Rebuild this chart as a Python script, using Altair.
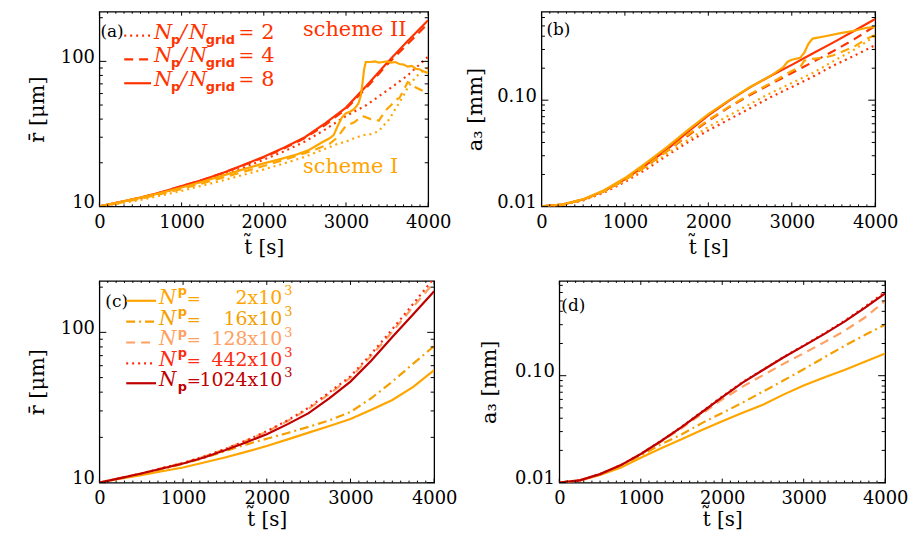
import altair as alt
import pandas as pd

# ---------------- data ----------------
T = [0, 250, 500, 750, 1000, 1250, 1500, 1750, 2000, 2250, 2500, 2750, 3000, 3250, 3500, 3750, 4000]

# panel (a): mean radius [micron]; scheme II (red) and scheme I (orange); Np/Ngrid = 2, 4, 8
a_II_2 = [10, 10.6, 11.4, 12.4, 13.6, 14.9, 16.5, 18.5, 21.0, 24.0, 28.0, 34.0, 42, 50, 63, 80, 108]
a_II_4 = [10, 10.7, 11.5, 12.5, 13.8, 15.2, 17.0, 19.2, 21.8, 25.2, 29.6, 36.5, 47, 66, 95, 132, 183]
a_II_8 = [10, 10.7, 11.5, 12.5, 13.8, 15.2, 17.0, 19.3, 22.0, 25.5, 30.0, 37.5, 48, 68, 98, 138, 192]

a_I_2_t = [0, 250, 500, 750, 1000, 1250, 1500, 1750, 2000, 2250, 2500, 2750, 2900, 3000, 3100, 3200,
           3300, 3400, 3450, 3500, 3550, 3600, 3650, 3700, 3750, 3800, 3850, 3900, 3950, 4000]
a_I_2 = [10, 10.5, 11.1, 11.9, 12.8, 13.9, 15.1, 16.5, 18.0, 19.8, 22.0, 25.0, 27.0, 28.0, 29.5, 31,
         31.5, 33, 36, 38, 42, 47, 52, 58, 66, 72, 78, 83, 87, 90]
a_I_4_t = [0, 250, 500, 750, 1000, 1250, 1500, 1750, 2000, 2250, 2500, 2650, 2800, 2900, 2950, 3000,
           3050, 3100, 3150, 3200, 3250, 3300, 3350, 3400, 3450, 3500, 3550, 3600, 3650, 3700, 3750,
           3800, 3850, 3900, 3950, 4000]
a_I_4 = [10, 10.6, 11.3, 12.2, 13.2, 14.4, 15.8, 17.3, 19.0, 21.0, 23.3, 25.0, 27, 30, 33, 36,
         37, 38, 40, 42, 41, 40, 40, 39, 43, 47, 50, 54, 56, 63, 72,
         70, 66, 64, 62, 60]
a_I_8_t = [0, 250, 500, 750, 1000, 1250, 1500, 1750, 2000, 2200, 2400, 2550, 2700, 2800, 2850, 2900,
           2950, 3000, 3050, 3100, 3150, 3180, 3200, 3220, 3240, 3300, 3350, 3400, 3450, 3500, 3550,
           3600, 3650, 3700, 3750, 3800, 3850, 3900, 3950, 4000]
a_I_8 = [10, 10.7, 11.5, 12.4, 13.5, 14.8, 16.3, 18.0, 19.8, 21.2, 22.8, 24.5, 27.5, 29.5, 31, 36,
         41, 44, 45, 47, 51, 58, 70, 88, 99, 99, 100, 98, 99, 100, 98,
         99, 96, 95, 92, 93, 89, 88, 85, 83]

# panel (b): a3 [mm]
b_II_2 = [0.010, 0.0103, 0.0114, 0.0135, 0.0170, 0.0222, 0.030, 0.040, 0.052, 0.066, 0.084, 0.107, 0.133, 0.166, 0.212, 0.262, 0.330]
b_II_4 = [0.010, 0.0104, 0.0116, 0.0139, 0.0178, 0.0238, 0.033, 0.046, 0.064, 0.086, 0.112, 0.142, 0.180, 0.228, 0.290, 0.375, 0.500]
b_II_8 = [0.010, 0.0104, 0.0116, 0.0140, 0.0180, 0.0245, 0.034, 0.050, 0.072, 0.099, 0.132, 0.170, 0.215, 0.275, 0.350, 0.450, 0.580]
b_I_2 = [0.010, 0.0103, 0.0115, 0.0137, 0.0174, 0.0230, 0.031, 0.042, 0.056, 0.072, 0.092, 0.117, 0.145, 0.180, 0.233, 0.300, 0.400]
b_I_4_t = [0, 250, 500, 750, 1000, 1250, 1500, 1750, 2000, 2250, 2500, 2750, 3000, 3100, 3150, 3250, 3400, 3500, 3750, 3900, 4000]
b_I_4 = [0.010, 0.0104, 0.0116, 0.0139, 0.0178, 0.0240, 0.033, 0.047, 0.065, 0.087, 0.114, 0.145, 0.188, 0.205, 0.235, 0.245, 0.252, 0.265, 0.32, 0.38, 0.41]
b_I_8_t = [0, 250, 500, 750, 1000, 1250, 1500, 1750, 2000, 2250, 2500, 2750, 2900, 2950, 3000, 3100, 3150, 3200, 3250, 3400, 3600, 3750, 3900, 4000]
b_I_8 = [0.010, 0.0104, 0.0117, 0.0142, 0.0185, 0.0255, 0.036, 0.052, 0.074, 0.100, 0.133, 0.170, 0.205, 0.23, 0.24, 0.25, 0.28, 0.34, 0.38, 0.40, 0.43, 0.45, 0.48, 0.49]

# panel (c): mean radius [micron] for Np = 2, 16, 128, 442, 1024 x 10^3
c_2 = [10, 10.6, 11.2, 11.9, 12.6, 13.6, 14.7, 16.0, 17.5, 19.4, 21.5, 23.8, 26.5, 30.5, 35.5, 43.4, 56]
c_16 = [10, 10.7, 11.4, 12.3, 13.3, 14.6, 16.2, 17.9, 19.6, 21.4, 23.5, 26.0, 29.5, 36.5, 47, 62, 81]
c_128 = [10, 10.7, 11.5, 12.5, 13.5, 14.9, 16.7, 19.0, 21.8, 25.7, 31, 39, 50, 70, 101, 148, 215]
c_442 = [10, 10.7, 11.5, 12.5, 13.5, 14.9, 16.7, 19.0, 22.0, 26.0, 31.5, 40, 51, 72, 105, 155, 230]
c_1024 = [10, 10.7, 11.5, 12.4, 13.4, 14.7, 16.4, 18.5, 21.0, 24.5, 29.0, 36.5, 47, 65, 93, 132, 188]

# panel (d): a3 [mm]
d_2 = [0.010, 0.0104, 0.0118, 0.0138, 0.0171, 0.0209, 0.0254, 0.031, 0.0375, 0.045, 0.0536, 0.0665, 0.081, 0.096, 0.113, 0.135, 0.161]
d_16 = [0.010, 0.0105, 0.0119, 0.0143, 0.0180, 0.0228, 0.0282, 0.036, 0.0448, 0.056, 0.071, 0.090, 0.115, 0.148, 0.190, 0.240, 0.300]
d_128 = [0.010, 0.0105, 0.0120, 0.0145, 0.0184, 0.0242, 0.0322, 0.044, 0.060, 0.079, 0.101, 0.129, 0.162, 0.205, 0.262, 0.350, 0.500]
d_442 = [0.010, 0.0105, 0.0120, 0.0145, 0.0185, 0.0246, 0.0332, 0.046, 0.064, 0.087, 0.114, 0.149, 0.192, 0.248, 0.325, 0.440, 0.610]
d_1024 = [0.010, 0.0105, 0.0120, 0.0145, 0.0185, 0.0245, 0.0330, 0.0455, 0.063, 0.086, 0.113, 0.148, 0.190, 0.245, 0.320, 0.430, 0.590]

x_major = [0, 1000, 2000, 3000, 4000]
x_minor = [v for v in range(100, 4000, 100) if v % 1000 != 0]
r_major = [10, 100]
r_minor = [20, 30, 40, 50, 60, 70, 80, 90, 200]
a3_major = [0.01, 0.1]
a3_minor_b = [0.02, 0.03, 0.04, 0.05, 0.06, 0.07, 0.08, 0.09, 0.2, 0.3, 0.4, 0.5, 0.6]
a3_minor_d = a3_minor_b + [0.7]

# ---------------- styles ----------------
FONT = "DejaVu Serif"
RED = "#FF3300"
ORANGE = "#FFA500"
C2 = "#FFA500"
C16 = "#F5A000"
C128 = "#FFA060"
C442 = "#FF2A10"
C1024 = "#C00000"
DOT = [2, 4]
DASH = [9, 6]
DASHDOT = [9, 4, 2, 4]
LW = 2.2
ONE = pd.DataFrame({"k": [0]})


def txt(s, x, y, size=20, color="black", font=FONT, style="normal", weight="normal", align="left"):
    return alt.Chart(ONE).mark_text(
        text=s, font=font, fontSize=size, fontStyle=style, fontWeight=weight,
        color=color, align=align, baseline="alphabetic"
    ).encode(x=alt.value(x), y=alt.value(y))


def seg(x1, x2, y, color, dash=None):
    kw = {"strokeDash": dash} if dash else {}
    return alt.Chart(ONE).mark_rule(color=color, strokeWidth=LW, **kw).encode(
        x=alt.value(x1), x2=alt.value(x2), y=alt.value(y))


def panel(series, w, h, ydom, yfmt, ymaj, ymin, ytitle, ytp, xtp, extras):
    xs = alt.Scale(domain=[0, 4000], nice=False, zero=False)
    ys = alt.Scale(type="log", domain=ydom, nice=False)
    xaxis = alt.Axis(values=x_major, format="d", ticks=False, domain=False, grid=False,
                     labelFont=FONT, labelFontSize=18, labelColor="black", labelPadding=7,
                     labelFlush=False, title="t\u0303 [s]", titleFont=FONT, titleFontSize=20,
                     titleFontWeight="normal", titleColor="black", titlePadding=xtp)
    yaxis = alt.Axis(values=ymaj, format=yfmt, ticks=False, domain=False, grid=False,
                     labelFont=FONT, labelFontSize=18, labelColor="black", labelPadding=5,
                     labelBaseline="alphabetic", labelOffset=1,
                     labelFlush=False, title=ytitle, titleFont=FONT, titleFontSize=21,
                     titleFontWeight="normal", titleColor="black", titlePadding=ytp)
    layers = []
    for tt, vv, color, dash in series:
        df = pd.DataFrame({"t": tt, "v": vv})
        kw = {"strokeDash": dash} if dash else {}
        layers.append(alt.Chart(df).mark_line(color=color, strokeWidth=LW, clip=True, **kw).encode(
            x=alt.X("t:Q", scale=xs, axis=xaxis),
            y=alt.Y("v:Q", scale=ys, axis=yaxis)))
    # inward box ticks on all four sides
    for vals, L in ((x_major, 4), (x_minor, 2)):
        base = alt.Chart(pd.DataFrame({"t": vals})).mark_rule(color="black", strokeWidth=1)
        layers.append(base.encode(x=alt.X("t:Q", scale=xs, axis=xaxis), y=alt.value(h), y2=alt.value(h - L)))
        layers.append(base.encode(x=alt.X("t:Q", scale=xs, axis=xaxis), y=alt.value(0), y2=alt.value(L)))
    for vals, L in ((ymaj, 7), (ymin, 3.5)):
        base = alt.Chart(pd.DataFrame({"v": vals})).mark_rule(color="black", strokeWidth=1)
        layers.append(base.encode(y=alt.Y("v:Q", scale=ys, axis=yaxis), x=alt.value(0), x2=alt.value(L)))
        layers.append(base.encode(y=alt.Y("v:Q", scale=ys, axis=yaxis), x=alt.value(w), x2=alt.value(w - L)))
    layers += extras
    return alt.layer(*layers).properties(width=w, height=h)


def ratio_row(y, dash, label):
    items = [seg(25, 52, y - 3, RED, dash),
             txt("N", 55, y, 21, RED, style="italic"),
             txt("p", 72, y + 5, 13, RED, font="DejaVu Sans", weight="bold"),
             txt("/", 81, y, 21, RED, style="italic"),
             txt("N", 90, y, 21, RED, style="italic"),
             txt("grid", 107, y + 5, 13, RED, font="DejaVu Sans", weight="bold"),
             txt("=", 140, y, 19, RED),
             txt(label, 163, y, 21, RED)]
    return items


def np_row(y, color, dash, num, sup=True):
    items = [seg(27, 57, y - 3, color, dash),
             txt("N", 60, y, 20, color, style="italic"),
             txt("p", 79, y - 9 if sup else y + 5, 13, color, font="DejaVu Sans", weight="bold"),
             txt("=", 88, y, 17, color),
             txt(num + "x10", 184, y, 19, color, align="right"),
             txt("3", 186, y - 9, 13, color)]
    return items


# ---------------- panels ----------------
WA, HA = 331, 196
extras_a = [txt("(a)", 1, 25, 17)]
extras_a += ratio_row(27, DOT, "2") + ratio_row(51, DASH, "4") + ratio_row(75, None, "8")
extras_a += [txt("scheme II", 205, 24, 21, RED), txt("scheme I", 205, 162, 21, ORANGE)]
pa = panel([(T, a_II_2, RED, DOT), (T, a_II_4, RED, DASH), (T, a_II_8, RED, None),
            (a_I_2_t, a_I_2, ORANGE, DOT), (a_I_4_t, a_I_4, ORANGE, DASH), (a_I_8_t, a_I_8, ORANGE, None)],
           WA, HA, [10, 220], "d", r_major, r_minor, "r\u0304 [\u03bcm]", 13, 6, extras_a)

WB, HB = 336, 196
pb = panel([(T, b_II_2, RED, DOT), (T, b_II_4, RED, DASH), (T, b_II_8, RED, None),
            (T, b_I_2, ORANGE, DOT), (b_I_4_t, b_I_4, ORANGE, DASH), (b_I_8_t, b_I_8, ORANGE, None)],
           WB, HB, [0.01, 0.68], ".2f", a3_major, a3_minor_b, "a\u2083 [mm]", 11, 6,
           [txt("(b)", 5, 23, 17)])

WC, HC = 337, 203
extras_c = [txt("(c)", 6, 26, 17)]
extras_c += np_row(23, C2, None, "2") + np_row(44, C16, DASHDOT, "16") + np_row(65, C128, DASH, "128")
extras_c += np_row(86, C442, DOT, "442") + np_row(106, C1024, None, "1024", sup=False)
pc = panel([(T, c_2, C2, None), (T, c_16, C16, DASHDOT), (T, c_128, C128, DASH),
            (T, c_442, C442, DOT), (T, c_1024, C1024, None)],
           WC, HC, [10, 220], "d", r_major, r_minor, "r\u0304 [\u03bcm]", 13, 2, extras_c)

WD, HD = 328, 203
pd_ = panel([(T, d_2, C2, None), (T, d_16, C16, DASHDOT), (T, d_128, C128, DASH),
             (T, d_442, C442, DOT), (T, d_1024, C1024, None)],
            WD, HD, [0.01, 0.77], ".2f", a3_major, a3_minor_d, "a\u2083 [mm]", 15, 2,
            [txt("(d)", 2, 30, 17)])

row1 = alt.hconcat(pa, pb, spacing=12)
row2 = alt.hconcat(pc, pd_, spacing=20)

chart = alt.vconcat(row1, row2, spacing=21).properties(
    padding={"left": 17, "top": 0, "right": 0, "bottom": 0}, background="white"
).configure_view(stroke="black", strokeWidth=1.3)

chart.save("out.html", embed_options={"renderer": "svg", "actions": False})
